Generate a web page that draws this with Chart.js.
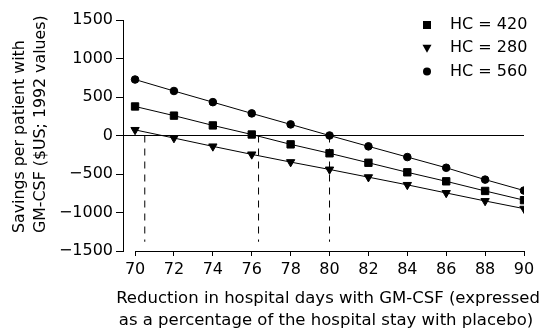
<!DOCTYPE html>
<html>
<head>
<meta charset="utf-8">
<script src="https://cdn.jsdelivr.net/npm/chart.js@4/dist/chart.umd.min.js"></script>
<style>
  html, body { margin: 0; padding: 0; background: #fff; }
  #wrap { width: 545px; height: 333px; }
</style>
</head>
<body>
<div id="wrap"><canvas id="c" width="545" height="333"></canvas></div>
<script>
// ---- data ----
const xValues = [70, 72, 74, 76, 78, 80, 82, 84, 86, 88, 90];
const hc420 = [377, 258, 131, 13, -115, -231, -354, -478, -595, -720, -840];
const hc280 = [73, -33, -141, -245, -345, -441, -541, -641, -746, -850, -950];
const hc560 = [727, 578, 433, 287, 144, 0, -141, -280, -419, -573, -715];
const seriesLabels = ['HC = 420', 'HC = 280', 'HC = 560'];
const seriesStyles = ['rect', 'triangle', 'circle'];
const xTicks = [70, 72, 74, 76, 78, 80, 82, 84, 86, 88, 90];
const xTickLabels = ['70', '72', '74', '76', '78', '80', '82', '84', '86', '88', '90'];
const yTicks = [1500, 1000, 500, 0, -500, -1000, -1500];
const yTickLabels = ['1500', '1000', '500', '0', '\u2212500', '\u22121000', '\u22121500'];
const dropX = [70.5, 76.35, 80];
const dropBottom = -1380;
const xTitle = ['Reduction in hospital days with GM-CSF (expressed', 'as a percentage of the hospital stay with placebo)'];
const yTitle = ['Savings per patient with', 'GM-CSF ($US; 1992 values)'];

const FONT = '16px "DejaVu Sans"';
const XTITLE_FONT = '16.5px "DejaVu Sans"';
const YTITLE_FONT = '15.8px "DejaVu Sans"';

function drawMarker(ctx, style, x, y) {
  ctx.beginPath();
  if (style === 'rect') {
    ctx.rect(x - 4, y - 4, 8, 8);
  } else if (style === 'triangle') {
    ctx.moveTo(x - 4.5, y - 3.5);
    ctx.lineTo(x + 4.5, y - 3.5);
    ctx.lineTo(x, y + 4.5);
    ctx.closePath();
  } else {
    ctx.arc(x, y, 4, 0, Math.PI * 2);
  }
  ctx.fill();
}

const extras = {
  id: 'extras',
  afterDraw(chart) {
    const ctx = chart.ctx;
    const xs = chart.scales.x, ys = chart.scales.y;
    ctx.save();
    ctx.fillStyle = '#000';
    ctx.strokeStyle = '#000';
    // x axis line from first to last tick
    ctx.lineWidth = 1;
    const yb = Math.round(ys.getPixelForValue(yTicks[yTicks.length - 1])) + 0.5;
    ctx.beginPath();
    ctx.moveTo(xs.getPixelForValue(xTicks[0]), yb);
    ctx.lineTo(xs.getPixelForValue(xTicks[xTicks.length - 1]), yb);
    ctx.stroke();
    // legend
    ctx.font = FONT;
    ctx.textBaseline = 'middle';
    ctx.textAlign = 'left';
    seriesLabels.forEach((lab, i) => {
      const y = 25 + i * 23.3;
      drawMarker(ctx, seriesStyles[i], 427, y);
      ctx.fillText(lab, 450, y);
    });
    // x title
    ctx.font = XTITLE_FONT;
    ctx.textAlign = 'center';
    ctx.fillText(xTitle[0], 328, 299);
    ctx.fillText(xTitle[1], 326, 321);
    // y title
    ctx.font = YTITLE_FONT;
    ctx.translate(20, 233);
    ctx.rotate(-Math.PI / 2);
    ctx.textAlign = 'left';
    ctx.fillText(yTitle[0], 0, 0);
    ctx.fillText(yTitle[1], 0, 21);
    ctx.restore();
  }
};

const lineData = arr => arr.map((v, i) => ({ x: xValues[i], y: v }));
const seriesArrays = [hc420, hc280, hc560];

const datasets = seriesArrays.map((arr, i) => ({
  label: seriesLabels[i],
  data: lineData(arr),
  borderColor: '#000',
  borderWidth: 1,
  backgroundColor: '#000',
  pointBackgroundColor: '#000',
  pointBorderColor: '#000',
  pointBorderWidth: 1,
  pointStyle: seriesStyles[i],
  pointRotation: seriesStyles[i] === 'triangle' ? 180 : 0,
  pointRadius: seriesStyles[i] === 'rect' ? 5.2 : (seriesStyles[i] === 'triangle' ? 4.8 : 3.8),
  tension: 0,
  fill: false
}));

dropX.forEach(x => {
  datasets.push({
    label: 'drop',
    data: [{ x: x, y: 0 }, { x: x, y: dropBottom }],
    borderColor: '#000',
    borderWidth: 1,
    borderDash: [7, 6],
    pointRadius: 0,
    fill: false
  });
});

new Chart(document.getElementById('c'), {
  type: 'line',
  data: { datasets },
  options: {
    responsive: false,
    animation: false,
    layout: { padding: { top: 20, right: 21, left: 0, bottom: 0 } },
    plugins: { legend: { display: false }, tooltip: { enabled: false } },
    scales: {
      x: {
        type: 'linear',
        min: 69.38,
        max: 90,
        afterBuildTicks: s => { s.ticks = xTicks.map(v => ({ value: v })); },
        afterFit: s => { s.height = 82; },
        grid: { display: true, drawOnChartArea: false, drawTicks: true, tickLength: 5, tickColor: '#000', color: '#000' },
        border: { display: false },
        ticks: {
          color: '#000',
          font: { family: 'DejaVu Sans', size: 16 },
          padding: 4,
          maxRotation: 0,
          autoSkip: false,
          callback: v => { const i = xTicks.indexOf(v); return i >= 0 ? xTickLabels[i] : ''; }
        }
      },
      y: {
        type: 'linear',
        min: -1500,
        max: 1500,
        afterBuildTicks: s => { s.ticks = yTicks.map(v => ({ value: v })); },
        afterFit: s => { s.width = 123; },
        grid: {
          display: true,
          drawOnChartArea: true,
          drawTicks: true,
          tickLength: 7,
          tickColor: '#000',
          lineWidth: 1,
          color: c => (c.tick && c.tick.value === 0) ? '#000' : 'rgba(0,0,0,0)'
        },
        border: { display: true, color: '#000', width: 1 },
        ticks: {
          color: '#000',
          font: { family: 'DejaVu Sans', size: 16 },
          padding: 3,
          autoSkip: false,
          callback: v => { const i = yTicks.indexOf(v); return i >= 0 ? yTickLabels[i] : ''; }
        }
      }
    }
  },
  plugins: [extras]
});
</script>
</body>
</html>
